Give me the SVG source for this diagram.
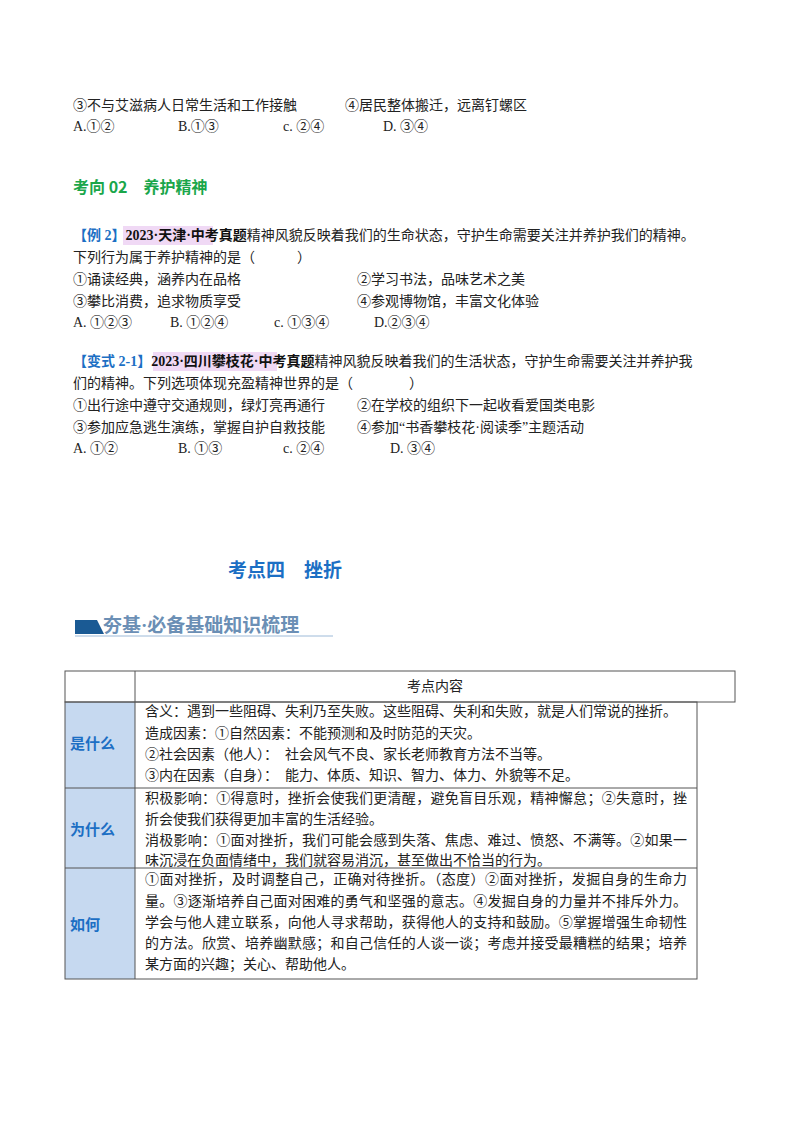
<svg xmlns="http://www.w3.org/2000/svg" width="800" height="1132" viewBox="0 0 800 1132">
<style>
text{font-family:"Liberation Serif","Noto Sans CJK SC",serif;font-size:14px;fill:#222}
.g{fill:#1aa64a;font-weight:bold;font-size:16px;font-family:"Noto Sans CJK SC",sans-serif}
.b{fill:#1c6fc4;font-weight:bold}
.k{font-weight:bold;fill:#111}
.hl{fill:#f0d9f5}
.lbl{fill:#1c6fc4;font-weight:bold;font-size:15px;font-family:"Noto Sans CJK SC",sans-serif}
.cell{fill:none;stroke:#555;stroke-width:1}
</style>
<rect width="800" height="1132" fill="#fff"/>
<g id="top">
<text x="73" y="110">③不与艾滋病人日常生活和工作接触</text>
<text x="345" y="110">④居民整体搬迁，远离钉螺区</text>
<text x="73" y="131">A.①②</text><text x="178" y="131">B.①③</text><text x="283" y="131">c. ②④</text><text x="383" y="131">D. ③④</text>
<text x="73" y="193" class="g">考向 02　养护精神</text>
</g>
<g id="ex2">
<rect class="hl" x="123" y="226" width="90" height="19"/>
<text x="73" y="240"><tspan class="b">【例 2】</tspan><tspan class="k">2023·天津·中考真题</tspan>精神风貌反映着我们的生命状态，守护生命需要关注并养护我们的精神。</text>
<text x="73" y="262">下列行为属于养护精神的是（　　　）</text>
<text x="73" y="284">①诵读经典，涵养内在品格</text><text x="357" y="284">②学习书法，品味艺术之美</text>
<text x="73" y="306">③攀比消费，追求物质享受</text><text x="357" y="306">④参观博物馆，丰富文化体验</text>
<text x="73" y="327">A. ①②③</text><text x="170" y="327">B. ①②④</text><text x="274" y="327">c. ①③④</text><text x="374" y="327">D.②③④</text>
</g>
<g id="var21">
<rect class="hl" x="153" y="352" width="124" height="19"/>
<text x="73" y="366"><tspan class="b">【变式 2-1】</tspan><tspan class="k">2023·四川攀枝花·中考真题</tspan>精神风貌反映着我们的生活状态，守护生命需要关注并养护我</text>
<text x="73" y="388">们的精神。下列选项体现充盈精神世界的是（　　　　）</text>
<text x="73" y="410">①出行途中遵守交通规则，绿灯亮再通行</text><text x="357" y="410">②在学校的组织下一起收看爱国类电影</text>
<text x="73" y="432">③参加应急逃生演练，掌握自护自救技能</text><text x="357" y="432">④参加“书香攀枝花·阅读季”主题活动</text>
<text x="73" y="453">A. ①②</text><text x="178" y="453">B. ①③</text><text x="283" y="453">c. ②④</text><text x="390" y="453">D. ③④</text>
</g>
<g id="title">
<text x="228" y="577" style="font-size:19px;font-weight:bold;fill:#1c6fc4;font-family:'Noto Sans CJK SC',sans-serif">考点四　挫折</text>
<polygon points="75,620 97,620 104,634 75,634" fill="#1a5a94"/>
<line x1="75" y1="636" x2="333" y2="636" stroke="#9dbad8" stroke-width="1"/>
<text x="103" y="632" style="font-size:19px;font-weight:bold;fill:#6b8fb5">夯基·必备基础知识梳理</text>
</g>
<g id="table">
<rect x="65" y="702" width="70" height="277" fill="#c6d9f0"/>
<rect class="cell" x="65" y="671" width="670" height="31"/>
<line class="cell" x1="135" y1="671" x2="135" y2="979"/>
<rect class="cell" x="65" y="702" width="632" height="277"/>
<line class="cell" x1="65" y1="788" x2="697" y2="788"/>
<line class="cell" x1="65" y1="868" x2="697" y2="868"/>
<text x="407" y="691">考点内容</text>
<text x="70" y="749" class="lbl">是什么</text>
<text x="70" y="835" class="lbl">为什么</text>
<text x="70" y="930" class="lbl">如何</text>
<text x="145" y="716">含义：遇到一些阻碍、失利乃至失败。这些阻碍、失利和失败，就是人们常说的挫折。</text>
<text x="145" y="738">造成因素：①自然因素：不能预测和及时防范的天灾。</text>
<text x="145" y="759">②社会因素（他人）：　社会风气不良、家长老师教育方法不当等。</text>
<text x="145" y="780">③内在因素（自身）：　能力、体质、知识、智力、体力、外貌等不足。</text>
<text x="145" y="803" textLength="542">积极影响：①得意时，挫折会使我们更清醒，避免盲目乐观，精神懈怠；②失意时，挫</text>
<text x="145" y="824">折会使我们获得更加丰富的生活经验。</text>
<text x="145" y="845" textLength="542">消极影响：①面对挫折，我们可能会感到失落、焦虑、难过、愤怒、不满等。②如果一</text>
<text x="145" y="865">味沉浸在负面情绪中，我们就容易消沉，甚至做出不恰当的行为。</text>
<text x="145" y="884" textLength="542">①面对挫折，及时调整自己，正确对待挫折。（态度）②面对挫折，发掘自身的生命力</text>
<text x="145" y="906" textLength="542">量。③逐渐培养自己面对困难的勇气和坚强的意志。④发掘自身的力量并不排斥外力。</text>
<text x="145" y="927" textLength="542">学会与他人建立联系，向他人寻求帮助，获得他人的支持和鼓励。⑤掌握增强生命韧性</text>
<text x="145" y="948" textLength="542">的方法。欣赏、培养幽默感；和自己信任的人谈一谈；考虑并接受最糟糕的结果；培养</text>
<text x="145" y="969">某方面的兴趣；关心、帮助他人。</text>
</g>
</svg>
